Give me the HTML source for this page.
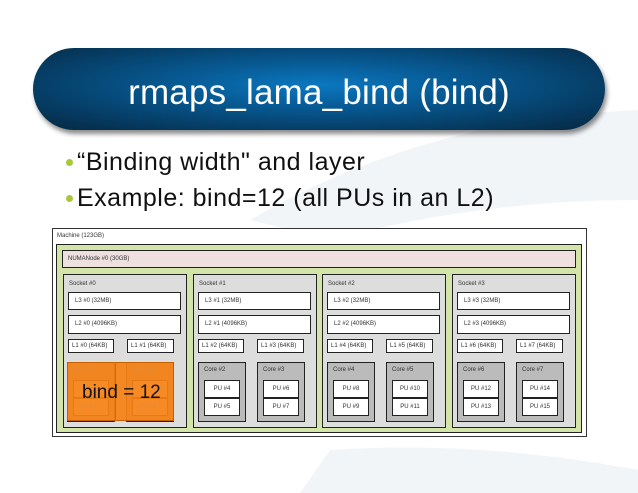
<!DOCTYPE html>
<html><head><meta charset="utf-8"><style>
*{margin:0;padding:0;box-sizing:border-box}
body{width:638px;height:493px;position:relative;background:#fff;font-family:"Liberation Sans",sans-serif;overflow:hidden}
.a{position:absolute}
.pill{left:33px;top:48px;width:572px;height:82px;border-radius:41px;background:radial-gradient(ellipse at 50% 45%,#0b78c0 0%,#075a94 35%,#063a60 75%,#04273f 100%);box-shadow:2px 4px 5px rgba(0,0,0,.45)}
.title{left:33px;top:52px;width:572px;height:82px;line-height:82px;text-align:center;color:#fff;font-size:35px;letter-spacing:0.2px}
.bul{font-size:25px;color:#111;letter-spacing:0.5px;white-space:nowrap}
.dot{width:7px;height:7px;border-radius:50%;background:#a8c838}
.s{font-size:6px;color:#333;white-space:nowrap}
.bx{border:1px solid #222;background:#fff;font-size:6px;color:#333;padding-left:6px;white-space:nowrap}
.sock{top:274px;width:124px;height:154px;border:1px solid #222;background:#ddd}
.core{top:362px;width:48px;height:60px;border:1px solid #222;background:#bbb}
.pu{width:36px;height:18px;border:1px solid #222;background:#fff;font-size:6px;text-align:center;line-height:16px;color:#333}
</style></head><body>
<svg class="a" style="left:0;top:0" width="638" height="493"><path d="M250 220 Q420 120 638 110 L638 200 Q480 200 330 240Z" fill="#f2f5f8"/><path d="M330 450 Q480 440 638 470 L638 493 L300 493Z" fill="#f2f5f8"/></svg>
<div class="a pill"></div>
<div class="a title">rmaps_lama_bind (bind)</div>
<div class="a dot" style="left:66px;top:159px"></div>
<div class="a bul" style="left:77px;top:148px">“Binding width" and layer</div>
<div class="a dot" style="left:66px;top:195px"></div>
<div class="a bul" style="left:77px;top:184px">Example: bind=12 (all PUs in an L2)</div>

<div class="a" style="left:52px;top:228px;width:535px;height:209px;border:1px solid #333;background:#fff"></div>
<div class="a s" style="left:57px;top:233px">Machine (123GB)</div>
<div class="a" style="left:56px;top:244px;width:526px;height:189px;border:1px solid #222;background:#d2e4a8"></div>
<div class="a" style="left:62px;top:250px;width:514px;height:18px;border:1px solid #222;background:#efe0e0"></div>
<div class="a s" style="left:68px;top:256px">NUMANode #0 (30GB)</div>

<div class="a sock" style="left:63px"></div><div class="a s" style="left:69px;top:281px">Socket #0</div>
<div class="a bx" style="left:68px;top:292px;width:113px;height:18px;line-height:16px">L3 #0 (32MB)</div>
<div class="a bx" style="left:68px;top:315px;width:113px;height:19px;line-height:17px">L2 #0 (4096KB)</div>
<div class="a bx" style="left:68px;top:339px;width:46px;height:14px;line-height:12px;padding-left:3px">L1 #0 (64KB)</div>
<div class="a bx" style="left:127px;top:339px;width:47px;height:14px;line-height:12px;padding-left:3px">L1 #1 (64KB)</div>
<div class="a core" style="left:67px"></div><div class="a core" style="left:126px"></div>
<div class="a pu" style="left:73px;top:380px"></div><div class="a pu" style="left:73px;top:398px"></div>
<div class="a pu" style="left:132px;top:380px"></div><div class="a pu" style="left:132px;top:398px"></div>
<div class="a" style="left:67px;top:362px;width:107px;height:59px;background:rgba(245,130,20,.93);border:1px solid #c46000"></div>
<div class="a" style="left:115px;top:362px;width:1px;height:59px;background:#d06a10"></div>
<div class="a s" style="left:73px;top:367px;color:#e08a40">Core #0</div><div class="a s" style="left:133px;top:367px;color:#e08a40">Core #1</div>
<div class="a s" style="left:80px;top:404px;color:#e08a40">PU #1</div><div class="a s" style="left:139px;top:404px;color:#e08a40">PU #3</div>
<div class="a" style="left:82px;top:382px;font-size:19px;color:#111">bind = 12</div>

<div class="a sock" style="left:193px"></div><div class="a s" style="left:199px;top:281px">Socket #1</div>
<div class="a bx" style="left:198px;top:292px;width:113px;height:18px;line-height:16px">L3 #1 (32MB)</div>
<div class="a bx" style="left:198px;top:315px;width:113px;height:19px;line-height:17px">L2 #1 (4096KB)</div>
<div class="a bx" style="left:198px;top:339px;width:46px;height:14px;line-height:12px;padding-left:3px">L1 #2 (64KB)</div>
<div class="a bx" style="left:257px;top:339px;width:47px;height:14px;line-height:12px;padding-left:3px">L1 #3 (64KB)</div>
<div class="a core" style="left:198px"></div><div class="a s" style="left:204px;top:367px">Core #2</div>
<div class="a core" style="left:257px"></div><div class="a s" style="left:263px;top:367px">Core #3</div>
<div class="a pu" style="left:204px;top:380px">PU #4</div><div class="a pu" style="left:204px;top:398px">PU #5</div>
<div class="a pu" style="left:263px;top:380px">PU #6</div><div class="a pu" style="left:263px;top:398px">PU #7</div>

<div class="a sock" style="left:322px"></div><div class="a s" style="left:328px;top:281px">Socket #2</div>
<div class="a bx" style="left:327px;top:292px;width:113px;height:18px;line-height:16px">L3 #2 (32MB)</div>
<div class="a bx" style="left:327px;top:315px;width:113px;height:19px;line-height:17px">L2 #2 (4096KB)</div>
<div class="a bx" style="left:327px;top:339px;width:46px;height:14px;line-height:12px;padding-left:3px">L1 #4 (64KB)</div>
<div class="a bx" style="left:386px;top:339px;width:47px;height:14px;line-height:12px;padding-left:3px">L1 #5 (64KB)</div>
<div class="a core" style="left:327px"></div><div class="a s" style="left:333px;top:367px">Core #4</div>
<div class="a core" style="left:386px"></div><div class="a s" style="left:392px;top:367px">Core #5</div>
<div class="a pu" style="left:333px;top:380px">PU #8</div><div class="a pu" style="left:333px;top:398px">PU #9</div>
<div class="a pu" style="left:392px;top:380px">PU #10</div><div class="a pu" style="left:392px;top:398px">PU #11</div>

<div class="a sock" style="left:452px"></div><div class="a s" style="left:458px;top:281px">Socket #3</div>
<div class="a bx" style="left:457px;top:292px;width:113px;height:18px;line-height:16px">L3 #3 (32MB)</div>
<div class="a bx" style="left:457px;top:315px;width:113px;height:19px;line-height:17px">L2 #3 (4096KB)</div>
<div class="a bx" style="left:457px;top:339px;width:46px;height:14px;line-height:12px;padding-left:3px">L1 #6 (64KB)</div>
<div class="a bx" style="left:516px;top:339px;width:47px;height:14px;line-height:12px;padding-left:3px">L1 #7 (64KB)</div>
<div class="a core" style="left:457px"></div><div class="a s" style="left:463px;top:367px">Core #6</div>
<div class="a core" style="left:516px"></div><div class="a s" style="left:522px;top:367px">Core #7</div>
<div class="a pu" style="left:463px;top:380px">PU #12</div><div class="a pu" style="left:463px;top:398px">PU #13</div>
<div class="a pu" style="left:522px;top:380px">PU #14</div><div class="a pu" style="left:522px;top:398px">PU #15</div>
</body></html>
